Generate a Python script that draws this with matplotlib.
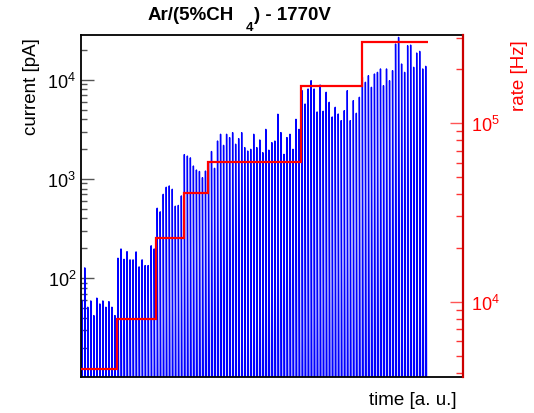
import numpy as np
import matplotlib
matplotlib.use('Agg')
import matplotlib.pyplot as plt
from matplotlib.ticker import LogLocator, LogFormatterMathtext, NullFormatter
from matplotlib.transforms import offset_copy

plt.rcParams['font.family'] = ['Liberation Sans', 'DejaVu Sans']
plt.rcParams['mathtext.fontset'] = 'custom'
plt.rcParams['mathtext.rm'] = 'Liberation Sans'
plt.rcParams['mathtext.it'] = 'Liberation Sans:italic'
plt.rcParams['mathtext.bf'] = 'Liberation Sans:bold'

# ---- data ----
# current peaks [pA], one list per rate stage
current_stage1 = [60, 127, 51, 59, 42, 63, 55, 59, 51, 58, 51, 42]
current_stage2 = [159, 197, 155, 185, 153, 153, 184, 130, 153, 134, 134, 212, 197]
current_stage3 = [507, 466, 700, 825, 850, 787, 531, 541, 674]
current_stage4 = [1760, 1700, 1630, 1350, 1230, 1190, 1030, 1200]
current_stage5 = [1470, 1890, 1280, 2410, 2820, 2180, 2820, 2610, 2930, 2240, 2550,
                  2930, 2070, 1910, 1990, 2820, 2070, 2470, 1840, 3160, 1950, 2320,
                  2410, 4490, 2930, 1770, 2610, 2820, 1990, 3990, 3160]
current_stage6 = [7750, 5690, 8060, 9770, 8060, 4730, 8840, 4810, 7470, 5920, 4210,
                  5270, 4510, 3870, 4870, 7750, 3870, 6150, 4590, 6650]
current_stage7 = [10570, 9420, 10970, 8380, 11410, 11860, 12830, 8710, 12830, 9770,
                  12330, 22880, 26700, 14390, 11860, 21980, 22300, 13340, 18560,
                  19300, 12830, 13640]
current_baseline = 1.0  # pA, between pulses (off scale)

# rate [Hz] per stage and stage boundaries in time [a. u.]
rate_levels = [4200, 8000, 22600, 40400, 60800, 161700, 285000]
rate_edges = [0, 12, 25, 34, 42, 73, 93, 115]

stages = [current_stage1, current_stage2, current_stage3, current_stage4,
          current_stage5, current_stage6, current_stage7]
peaks = np.concatenate([np.asarray(s, float) for s in stages])
t = np.arange(len(peaks)) + 0.25

# build the pulse polyline: baseline -> peak -> baseline
xs = np.column_stack([t, t, t + 0.35]).ravel()
ys = np.column_stack([np.full_like(peaks, current_baseline), peaks,
                      np.full_like(peaks, current_baseline)]).ravel()

fig = plt.figure(figsize=(5.34, 4.14), dpi=100)
ax = fig.add_axes([81/534, 1-378/414, (463-81)/534, (378-35.7)/414])
ax.plot(xs, ys, color='#0000ff', lw=1.0)
ax.set_yscale('log')
ax.set_ylim(10.1, 2.84e4)
ax.set_xlim(0, 126.6)

ax.tick_params(axis='x', which='both', bottom=False, top=False, labelbottom=False)
ax.yaxis.set_major_locator(LogLocator(base=10))
ax.yaxis.set_minor_locator(LogLocator(base=10, subs=np.arange(2, 10)))
ax.yaxis.set_major_formatter(LogFormatterMathtext())
ax.yaxis.set_minor_formatter(NullFormatter())
ax.tick_params(axis='y', which='major', direction='in', length=9.4, width=1.0,
               labelsize=13, pad=3.5, right=False, color='#555555')
ax.tick_params(axis='y', which='minor', direction='in', length=4.5, width=1.0,
               right=False, color='#555555')
for s in ['left', 'bottom', 'top']:
    ax.spines[s].set_linewidth(1.3)
    ax.spines[s].set_color('black')
ax.spines['right'].set_visible(False)

ax2 = ax.twinx()
ax2.stairs(rate_levels, rate_edges, baseline=None, color='#ff0000', lw=1.6)
ax2.set_yscale('log')
ax2.set_ylim(3794, 312000)
ax2.yaxis.set_major_locator(LogLocator(base=10))
ax2.yaxis.set_minor_locator(LogLocator(base=10, subs=np.arange(2, 10)))
ax2.yaxis.set_major_formatter(LogFormatterMathtext())
ax2.yaxis.set_minor_formatter(NullFormatter())
ax2.tick_params(axis='y', which='major', direction='in', length=9.4, width=1.0,
                labelsize=13, pad=5.5, color='#ff5555', labelcolor='#ff0000')
ax2.tick_params(axis='y', which='minor', direction='in', length=5.0, width=1.0,
                color='#ff3333')
ax2.spines['right'].set_color('#cc0000')
ax2.spines['right'].set_linewidth(1.6)
for s in ['left', 'bottom', 'top']:
    ax2.spines[s].set_visible(False)

fig.text(31/534, 1-38/414, 'current [pA]', rotation=90, ha='center', va='top',
         fontsize=13.5, color='black')
fig.text(520/534, 1-40/414, 'rate [Hz]', rotation=90, ha='center', va='top',
         fontsize=13.5, color='#ff0000')
fig.text(457/534, 1-405/414, 'time [a. u.]', ha='right', va='baseline',
         fontsize=13.5, color='black')

# ROOT-style title with detached subscript
renderer = fig.canvas.get_renderer()
ty = 1 - 19.5/414
t1 = fig.text(148/534, ty, 'Ar/(5%CH', ha='left', va='baseline',
              fontsize=13.5, fontweight='bold')
w1 = t1.get_window_extent(renderer).width
t2 = fig.text(148/534, ty, '4', ha='left', va='top', fontsize=9.5, fontweight='bold',
              transform=offset_copy(fig.transFigure, fig=fig, x=w1 + 11, y=-2.5,
                                    units='dots'))
w2 = t2.get_window_extent(renderer).width
fig.text(148/534, ty, ') - 1770V', ha='left', va='baseline', fontsize=13.5,
         fontweight='bold',
         transform=offset_copy(fig.transFigure, fig=fig, x=w1 + 11 + w2 + 1,
                               y=0, units='dots'))

fig.savefig('out.png', dpi=100)
